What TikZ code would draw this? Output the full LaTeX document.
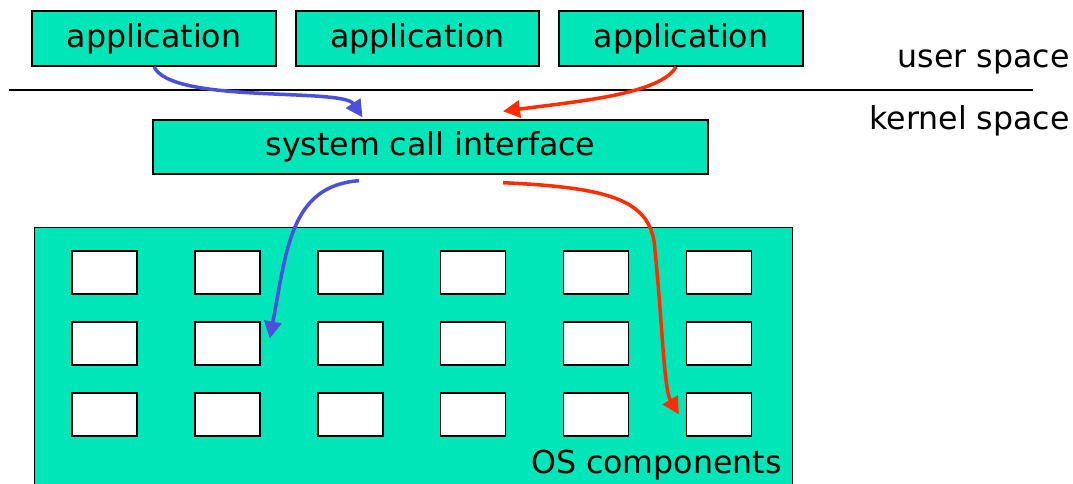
\documentclass[tikz,border=0pt]{standalone}
\usepackage{fontspec}
\setmainfont{DejaVu Sans}
\usetikzlibrary{matrix,arrows.meta}
\definecolor{osgreen}{RGB}{0,230,185}
\definecolor{callblue}{RGB}{75,80,220}
\definecolor{callred}{RGB}{255,45,0}
\tikzstyle{layer} = [draw=black, line width=0.8pt, fill=osgreen, inner sep=0pt, font=\fontsize{18}{20}\selectfont]
\tikzstyle{component} = [draw=black, line width=0.8pt, fill=white, minimum width=1.3cm, minimum height=0.86cm, inner sep=0pt]
\tikzstyle{spacename} = [anchor=east, inner sep=0pt, font=\fontsize{18}{20}\selectfont]
\tikzstyle{call} = [line width=2pt, -{Triangle[length=0.34cm,width=0.34cm]}]

\begin{document}
\begin{tikzpicture}%
	\useasboundingbox (0,0) rectangle (21.46,9.66);%
	% user space
	\node [layer, minimum width=4.88cm, minimum height=1.1cm] (app1) at (3.08,8.89) {application};%
	\node [layer, minimum width=4.86cm, minimum height=1.1cm] (app2) at (8.35,8.89) {application};%
	\node [layer, minimum width=4.88cm, minimum height=1.1cm] (app3) at (13.62,8.89) {application};%
	\draw [line width=0.8pt] (0.18,7.86) -- (20.66,7.86);%
	\node [spacename] (user) at (21.4,8.42) {user space};%
	\node [spacename] (kernel) at (21.4,7.24) {kernel space};%
	% kernel
	\node [layer, minimum width=11.1cm, minimum height=1.08cm] (sci) at (8.61,6.72) {system call interface};%
	\node [layer, anchor=north west, minimum width=15.16cm, minimum height=5.6cm] (os) at (0.68,5.12) {};%
	\node [spacename] (oslabel) at (15.64,0.36) {OS components};%
	\matrix (mat) at (1.42,4.66) [matrix of nodes, ampersand replacement=\&, nodes={component}, nodes in empty cells,%
		anchor=north west, inner sep=0pt,%
		column sep={1.13cm}, row sep={0.53cm}] { \& \& \& \& \& \\%
		\& \& \& \& \& \\%
		\& \& \& \& \& \\%
	};%
	% calls
	\draw [call, callblue] (app1.south) .. controls +(0.35,-0.75) and +(-0.4,0.6) .. ([xshift=-1.36cm,yshift=0.04cm]sci.north);%
	\draw [call, callred] ([xshift=-0.1cm]app3.south) .. controls +(-0.3,-0.55) and +(1.5,0.2) .. ([xshift=1.45cm,yshift=0.16cm]sci.north);%
	\draw [call, callblue] ([xshift=-1.43cm,yshift=-0.12cm]sci.south) .. controls +(-1.38,-0.1) and +(0.34,1.76) .. ([xshift=0.18cm,yshift=0.1cm]mat-2-2.east);%
	\draw [call, callred] ([xshift=1.45cm,yshift=-0.16cm]sci.south) .. controls +(2.2,-0.1) and +(-0.05,1.0) .. ++(3.04,-1.36) .. controls +(0.15,-1.5) and +(-0.3,0.5) .. ([xshift=-0.14cm]mat-3-6.west);%
\end{tikzpicture}
\end{document}
